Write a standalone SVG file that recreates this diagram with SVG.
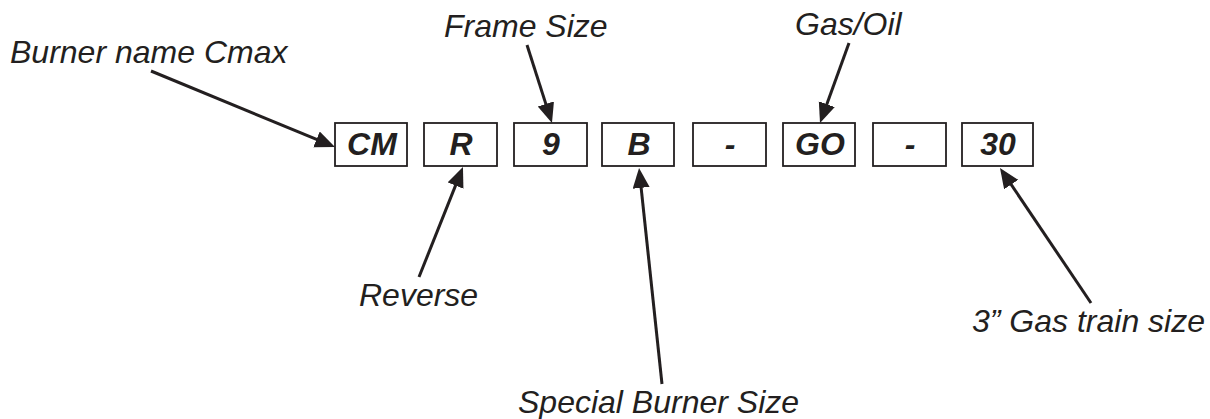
<svg xmlns="http://www.w3.org/2000/svg" width="1210" height="419" viewBox="0 0 1210 419">
<style>
.box{fill:#fff;stroke:#231f20;stroke-width:1.8}
.code{font-family:"Liberation Sans",Arial,sans-serif;font-size:32px;font-weight:bold;font-style:italic;fill:#231f20;text-anchor:middle}
.lbl{font-family:"Liberation Sans",Arial,sans-serif;font-size:32px;font-style:italic;fill:#231f20}
.arr{stroke:#231f20;stroke-width:3;fill:none;marker-end:url(#ah)}
</style>
<defs>
<marker id="ah" markerUnits="userSpaceOnUse" markerWidth="21" markerHeight="18" refX="8" refY="8.5" orient="auto">
<path d="M0,0 L20,8.5 L0,17 z" fill="#231f20"/>
</marker>
</defs>
<rect width="1210" height="419" fill="#fff"/>
<g id="node-cm"><rect class="box" x="335" y="123" width="72" height="43"/><text class="code" x="372" y="155">CM</text></g>
<g id="node-r"><rect class="box" x="424" y="123" width="73" height="43"/><text class="code" x="461" y="155">R</text></g>
<g id="node-9"><rect class="box" x="514" y="123" width="73" height="43"/><text class="code" x="551" y="155">9</text></g>
<g id="node-b"><rect class="box" x="602" y="123" width="72" height="43"/><text class="code" x="639" y="155">B</text></g>
<g id="node-dash1"><rect class="box" x="693" y="123" width="73" height="43"/><text class="code" x="730" y="155">-</text></g>
<g id="node-go"><rect class="box" x="783" y="123" width="72" height="43"/><text class="code" x="820" y="155">GO</text></g>
<g id="node-dash2"><rect class="box" x="873" y="123" width="73" height="43"/><text class="code" x="910" y="155">-</text></g>
<g id="node-30"><rect class="box" x="962" y="123" width="71" height="43"/><text class="code" x="998" y="155">30</text></g>
<g id="label-burner"><text class="lbl" x="10" y="63">Burner name Cmax</text></g>
<g id="label-frame"><text class="lbl" x="444" y="37">Frame Size</text></g>
<g id="label-gasoil"><text class="lbl" x="795" y="35">Gas/Oil</text></g>
<g id="label-reverse"><text class="lbl" x="359" y="306">Reverse</text></g>
<g id="label-special"><text class="lbl" x="518" y="413">Special Burner Size</text></g>
<g id="label-gastrain"><text class="lbl" x="972" y="332">3” Gas train size</text></g>
<g id="connectors">
<line class="arr" x1="151" y1="71" x2="323.9" y2="142.4"/>
<line class="arr" x1="527" y1="45" x2="548.3" y2="111.6"/>
<line class="arr" x1="849" y1="43" x2="824.1" y2="111.7"/>
<line class="arr" x1="419" y1="277" x2="458.5" y2="178.1"/>
<line class="arr" x1="662" y1="384" x2="640.3" y2="179.9"/>
<line class="arr" x1="1091" y1="303" x2="1006.7" y2="177.9"/>
</g>
</svg>
